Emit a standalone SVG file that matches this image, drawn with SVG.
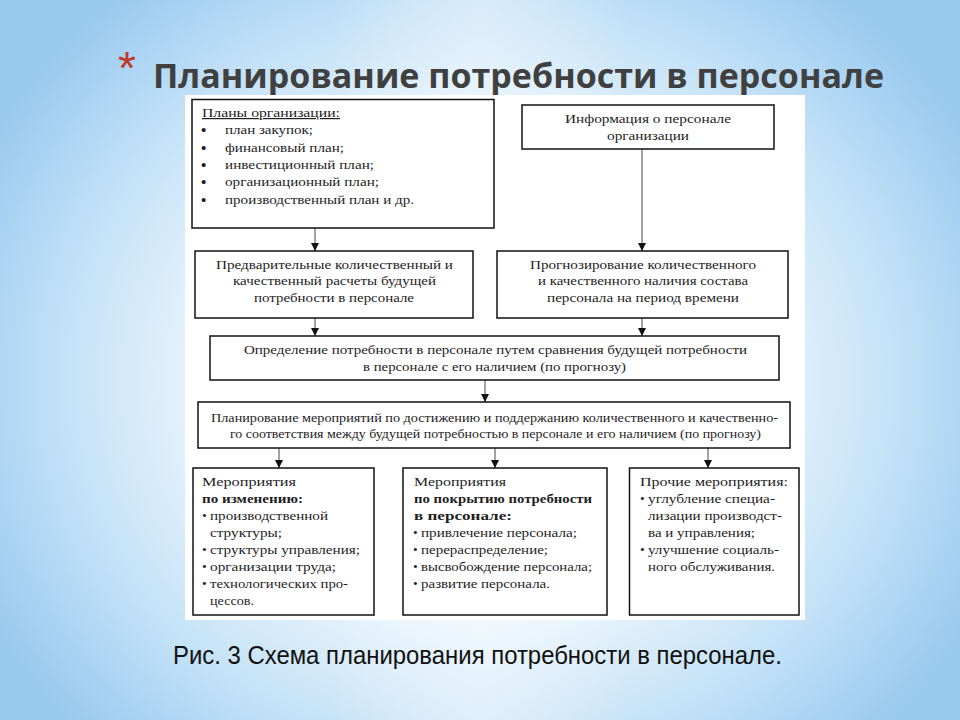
<svg xmlns="http://www.w3.org/2000/svg" width="960" height="720" viewBox="0 0 960 720">
<defs>
<radialGradient id="bg" cx="480" cy="380" r="560" gradientUnits="userSpaceOnUse" gradientTransform="translate(480 380) scale(1 0.9) translate(-480 -380)">
<stop offset="0" stop-color="#ffffff"/>
<stop offset="0.45" stop-color="#eef7fd"/>
<stop offset="0.75" stop-color="#c3e1f7"/>
<stop offset="1" stop-color="#98c9ef"/>
</radialGradient>
<linearGradient id="topglow" x1="0" y1="0" x2="1" y2="0">
<stop offset="0" stop-color="#ffffff" stop-opacity="0"/>
<stop offset="0.5" stop-color="#ffffff" stop-opacity="0.7"/>
<stop offset="1" stop-color="#ffffff" stop-opacity="0"/>
</linearGradient>
<marker id="arr" viewBox="0 0 8 8" refX="8" refY="4" markerWidth="8" markerHeight="8" markerUnits="userSpaceOnUse" orient="auto">
<path d="M0,0 L8,4 L0,8 Z" fill="#111"/>
</marker>
<style>
.box{fill:#fff;stroke:#111;stroke-width:1.5}
.t{font-family:"Liberation Serif","Times New Roman",serif;fill:#1e1e1e}
.s12{font-size:12px}
.s125{font-size:12.5px}
.s13{font-size:13.5px}
.b{font-weight:bold}
.bul{font-size:15px;font-weight:bold}
.conn line{stroke:#666;stroke-width:1.2;marker-end:url(#arr)}
</style>
</defs>
<rect width="960" height="720" fill="url(#bg)"/>
<rect x="330" y="0" width="300" height="720" fill="url(#topglow)" opacity="0.5"/>
<text x="118" y="84" font-family="'Liberation Sans',Arial,sans-serif" font-size="46" fill="#c0392b">*</text>
<text x="153" y="88" font-family="'Open Sans','DejaVu Sans',sans-serif" font-size="34" font-weight="bold" fill="#404040" textLength="731" lengthAdjust="spacingAndGlyphs">Планирование потребности в персонале</text>
<rect x="185" y="95" width="620" height="525" fill="#fff"/>

<g class="conn">
<line x1="315" y1="228" x2="315" y2="251"/>
<line x1="642" y1="149" x2="642" y2="251"/>
<line x1="315" y1="318" x2="315" y2="336"/>
<line x1="642" y1="318" x2="642" y2="336"/>
<line x1="485" y1="380" x2="485" y2="402"/>
<line x1="279" y1="448" x2="279" y2="468"/>
<line x1="495" y1="448" x2="495" y2="468"/>
<line x1="708" y1="448" x2="708" y2="468"/>
</g>

<g id="plans">
<rect class="box" x="192" y="99.5" width="302" height="128.5"/>
<text class="t s12" x="202" y="117" text-decoration="underline" textLength="138" lengthAdjust="spacingAndGlyphs">Планы организации:</text>
<g class="t s12">
<text class="bul" x="201" y="135">•</text><text x="225" y="134" textLength="88" lengthAdjust="spacingAndGlyphs">план закупок;</text>
<text class="bul" x="201" y="153">•</text><text x="225" y="152" textLength="119" lengthAdjust="spacingAndGlyphs">финансовый план;</text>
<text class="bul" x="201" y="170">•</text><text x="225" y="169" textLength="149" lengthAdjust="spacingAndGlyphs">инвестиционный план;</text>
<text class="bul" x="201" y="187">•</text><text x="225" y="186" textLength="154" lengthAdjust="spacingAndGlyphs">организационный план;</text>
<text class="bul" x="201" y="205">•</text><text x="225" y="204" textLength="189" lengthAdjust="spacingAndGlyphs">производственный план и др.</text>
</g>
</g>

<g id="info">
<rect class="box" x="522" y="105" width="252" height="44"/>
<text class="t s125" x="565" y="122.5" textLength="166" lengthAdjust="spacingAndGlyphs">Информация о персонале</text>
<text class="t s125" x="607" y="140" textLength="82" lengthAdjust="spacingAndGlyphs">организации</text>
</g>

<g id="prelim">
<rect class="box" x="195" y="251" width="278" height="67"/>
<text class="t s125" x="216" y="268.5" textLength="237" lengthAdjust="spacingAndGlyphs">Предварительные количественный и</text>
<text class="t s125" x="233" y="285" textLength="203" lengthAdjust="spacingAndGlyphs">качественный расчеты будущей</text>
<text class="t s125" x="254" y="301.5" textLength="160" lengthAdjust="spacingAndGlyphs">потребности в персонале</text>
</g>

<g id="forecast">
<rect class="box" x="497" y="251" width="291" height="67"/>
<text class="t s125" x="530" y="268.5" textLength="226" lengthAdjust="spacingAndGlyphs">Прогнозирование количественного</text>
<text class="t s125" x="538" y="285" textLength="210" lengthAdjust="spacingAndGlyphs">и качественного наличия состава</text>
<text class="t s125" x="547" y="301.5" textLength="192" lengthAdjust="spacingAndGlyphs">персонала на период времени</text>
</g>

<g id="compare">
<rect class="box" x="210" y="336" width="569" height="44"/>
<text class="t s125" x="244" y="354" textLength="503" lengthAdjust="spacingAndGlyphs">Определение потребности в персонале путем сравнения будущей потребности</text>
<text class="t s125" x="363" y="371" textLength="263" lengthAdjust="spacingAndGlyphs">в персонале с его наличием (по прогнозу)</text>
</g>

<g id="planning">
<rect class="box" x="198" y="402" width="592" height="46"/>
<text class="t s125" x="211" y="422" textLength="567" lengthAdjust="spacingAndGlyphs">Планирование мероприятий по достижению и поддержанию количественного и качественно-</text>
<text class="t s125" x="230" y="438" textLength="531" lengthAdjust="spacingAndGlyphs">го соответствия между будущей потребностью в персонале и его наличием (по прогнозу)</text>
</g>

<g id="change">
<rect class="box" x="193" y="468" width="181" height="147"/>
<g class="t s13">
<text x="202" y="486" textLength="94" lengthAdjust="spacingAndGlyphs">Мероприятия</text>
<text class="b" x="202" y="503" textLength="101" lengthAdjust="spacingAndGlyphs">по изменению:</text>
<text x="202" y="520">•</text><text x="210" y="520" textLength="118" lengthAdjust="spacingAndGlyphs">производственной</text>
<text x="210" y="537" textLength="72" lengthAdjust="spacingAndGlyphs">структуры;</text>
<text x="202" y="554">•</text><text x="210" y="554" textLength="150" lengthAdjust="spacingAndGlyphs">структуры управления;</text>
<text x="202" y="571">•</text><text x="210" y="571" textLength="126" lengthAdjust="spacingAndGlyphs">организации труда;</text>
<text x="202" y="588">•</text><text x="210" y="588" textLength="138" lengthAdjust="spacingAndGlyphs">технологических про-</text>
<text x="210" y="605" textLength="44" lengthAdjust="spacingAndGlyphs">цессов.</text>
</g>
</g>

<g id="cover">
<rect class="box" x="403" y="468" width="204" height="147"/>
<g class="t s13">
<text x="414" y="486" textLength="92" lengthAdjust="spacingAndGlyphs">Мероприятия</text>
<text class="b" x="414" y="503" textLength="178" lengthAdjust="spacingAndGlyphs">по покрытию потребности</text>
<text class="b" x="414" y="520" textLength="98" lengthAdjust="spacingAndGlyphs">в персонале:</text>
<text x="413" y="537">•</text><text x="421" y="537" textLength="156" lengthAdjust="spacingAndGlyphs">привлечение персонала;</text>
<text x="413" y="554">•</text><text x="421" y="554" textLength="127" lengthAdjust="spacingAndGlyphs">перераспределение;</text>
<text x="413" y="571">•</text><text x="421" y="571" textLength="171" lengthAdjust="spacingAndGlyphs">высвобождение персонала;</text>
<text x="413" y="588">•</text><text x="421" y="588" textLength="129" lengthAdjust="spacingAndGlyphs">развитие персонала.</text>
</g>
</g>

<g id="other">
<rect class="box" x="629.5" y="468" width="169.5" height="147"/>
<g class="t s13">
<text x="640" y="486" textLength="148" lengthAdjust="spacingAndGlyphs">Прочие мероприятия:</text>
<text x="640" y="503">•</text><text x="648" y="503" textLength="127" lengthAdjust="spacingAndGlyphs">углубление специа-</text>
<text x="648" y="520" textLength="134" lengthAdjust="spacingAndGlyphs">лизации производст-</text>
<text x="648" y="537" textLength="107" lengthAdjust="spacingAndGlyphs">ва и управления;</text>
<text x="640" y="554">•</text><text x="648" y="554" textLength="131" lengthAdjust="spacingAndGlyphs">улучшение социаль-</text>
<text x="648" y="571" textLength="127" lengthAdjust="spacingAndGlyphs">ного обслуживания.</text>
</g>
</g>

<text x="173" y="664" font-family="'Liberation Sans',Arial,sans-serif" font-size="25" fill="#111" textLength="609" lengthAdjust="spacingAndGlyphs">Рис. 3 Схема планирования потребности в персонале.</text>
</svg>
